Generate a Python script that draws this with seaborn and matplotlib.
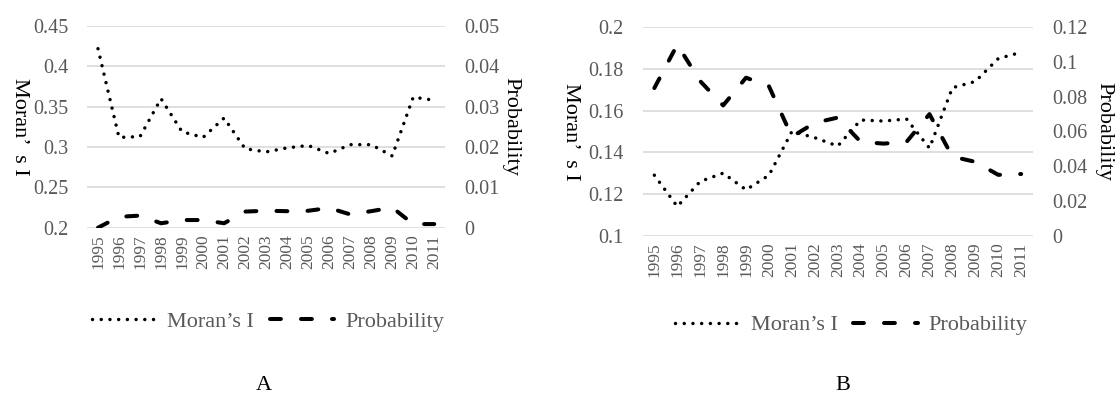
import pandas as pd
import seaborn as sns
import matplotlib.pyplot as plt
from matplotlib.lines import Line2D

# data
years = [str(y) for y in range(1995, 2012)]

moran_a = [0.422, 0.312, 0.313, 0.360, 0.319, 0.312, 0.336, 0.298, 0.294,
           0.299, 0.302, 0.292, 0.303, 0.303, 0.289, 0.362, 0.358]
prob_a = [0.0, 0.0027, 0.0030, 0.0011, 0.0019, 0.0019, 0.0011, 0.0040, 0.0042,
          0.0041, 0.0042, 0.0049, 0.0033, 0.0041, 0.0050, 0.0009, 0.0009]

moran_b = [0.129, 0.114, 0.126, 0.130, 0.122, 0.129, 0.150, 0.147, 0.143,
           0.1555, 0.155, 0.156, 0.142, 0.171, 0.174, 0.185, 0.188]
prob_b = [0.085, 0.110, 0.089, 0.075, 0.091, 0.086, 0.057, 0.065, 0.068,
          0.054, 0.053, 0.054, 0.070, 0.0455, 0.0425, 0.035, 0.0355]

left_ticks_a = [0.2, 0.25, 0.3, 0.35, 0.4, 0.45]
right_ticks_a = [0, 0.01, 0.02, 0.03, 0.04, 0.05]
left_ticks_b = [0.1, 0.12, 0.14, 0.16, 0.18, 0.2]
right_ticks_b = [0, 0.02, 0.04, 0.06, 0.08, 0.1, 0.12]

sns.set_theme(style="white")
plt.rcParams["font.family"] = ["Liberation Serif", "DejaVu Serif"]

GRAY = "#595959"
DOT = dict(color="black", lw=2.5, ls=(0, (0.01, 2.5)), dash_capstyle="round")
DASH = dict(color="black", lw=2.9, ls=(0, (2.7, 5.0)), dash_capstyle="round")

fig = plt.figure(figsize=(11.2, 3.96), dpi=100)


def panel(rect, moran, prob, lticks, rticks, letter, letter_x, leg_x, leg_y,
          ylab_x, rlab_pad):
    df = pd.DataFrame({"year": years, "moran": moran, "prob": prob})
    ax = fig.add_axes(rect)
    ax2 = ax.twinx()
    sns.lineplot(data=df, x="year", y="moran", ax=ax, **DOT)
    sns.lineplot(data=df, x="year", y="prob", ax=ax2, **DASH)

    ax.set_xlim(-0.5, len(years) - 0.5)
    ax.set_ylim(lticks[0], lticks[-1])
    ax2.set_ylim(rticks[0], rticks[-1])
    ax.set_yticks(lticks)
    ax.set_yticklabels([f"{t:g}" for t in lticks])
    ax2.set_yticks(rticks)
    ax2.set_yticklabels([f"{t:g}" for t in rticks])
    ax.set_xticks(range(len(years)))
    ax.set_xticklabels(years, rotation=90)

    ax.grid(axis="y", color="#d9d9d9", lw=1.2)
    ax.set_axisbelow(True)
    for a in (ax, ax2):
        for s in a.spines.values():
            s.set_visible(False)
        a.tick_params(length=0, colors=GRAY)
    ax.tick_params(axis="y", labelsize=14.5, pad=14)
    ax2.tick_params(axis="y", labelsize=14.5, pad=14)
    ax.tick_params(axis="x", labelsize=12.5, pad=5)

    ax.set_xlabel("")
    ax.set_ylabel("Moran’  s I", fontsize=16, rotation=270, color="black",
                  va="center")
    ax2.set_ylabel("Probability", fontsize=16, rotation=270,
                   labelpad=rlab_pad, color="black")
    ax.yaxis.set_label_coords(ylab_x, 0.5)

    handles = [Line2D([], [], **DOT), Line2D([], [], **DASH)]
    ax.legend(handles, ["Moran’s I", "Probability"], loc="center",
              bbox_to_anchor=(leg_x, leg_y), ncol=2, frameon=False,
              fontsize=16, labelcolor=GRAY, handlelength=2.9,
              handletextpad=0.5, columnspacing=0.7)

    fig.text(letter_x, 1 - 386 / 396, letter, fontsize=16,
             ha="center", va="center", color="black")


panel([0.0781, 0.425, 0.319, 0.509], moran_a, prob_a,
      left_ticks_a, right_ticks_a, "A", 264 / 1120, 0.505, -0.465,
      -0.19, 15)
panel([0.574, 0.405, 0.348, 0.526], moran_b, prob_b,
      left_ticks_b, right_ticks_b, "B", 843 / 1120, 0.535, -0.43,
      -0.185, 19)

fig.savefig("out.png", dpi=100)
